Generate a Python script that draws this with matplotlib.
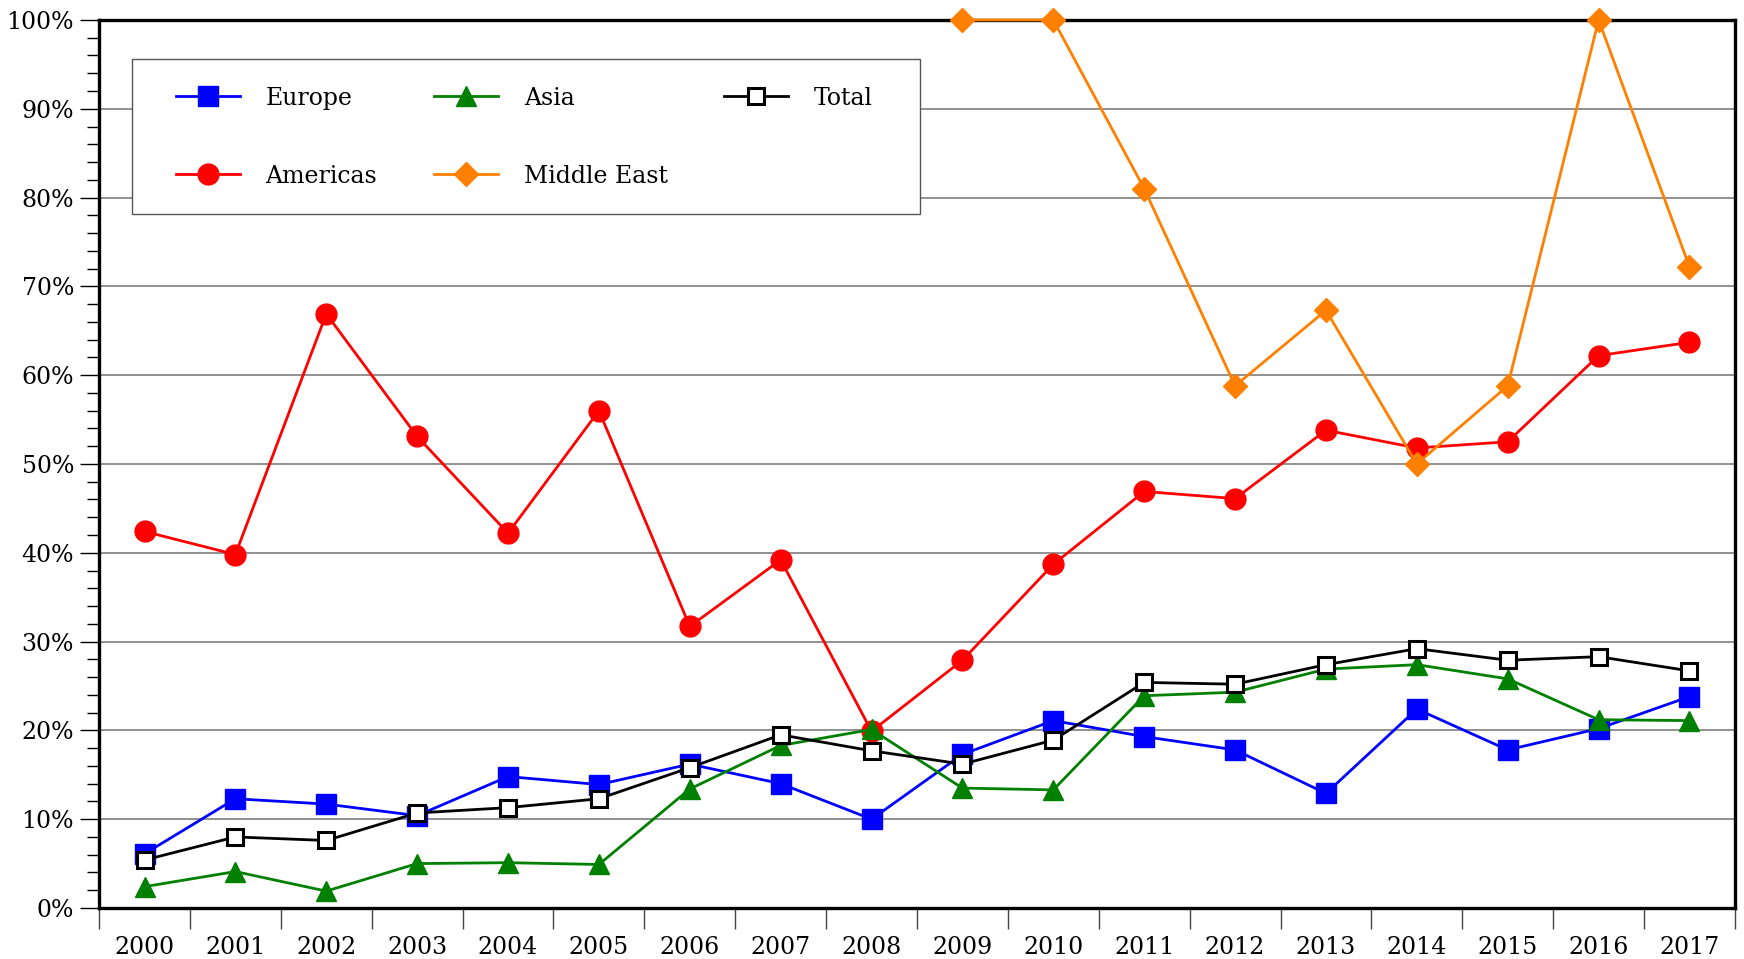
import numpy as np
from matplotlib import pyplot as plt
from matplotlib.patches import Rectangle
from matplotlib.ticker import MultipleLocator, FuncFormatter

years = [str(y) for y in range(2000, 2018)]

europe = [6.1, 12.3, 11.7, 10.4, 14.8, 13.9, 16.2, 14.0, 10.0, 17.3,
          21.1, 19.3, 17.8, 12.9, 22.4, 17.8, 20.2, 23.8]
asia = [2.4, 4.1, 1.9, 5.0, 5.1, 4.9, 13.4, 18.3, 20.1, 13.5,
        13.3, 23.9, 24.3, 26.9, 27.4, 25.8, 21.2, 21.1]
total = [5.4, 8.0, 7.6, 10.7, 11.3, 12.3, 15.8, 19.5, 17.7, 16.2,
         18.9, 25.4, 25.2, 27.4, 29.2, 27.9, 28.3, 26.7]
americas = [42.4, 39.8, 66.9, 53.1, 42.2, 56.0, 31.7, 39.2, 19.9, 27.9,
            38.7, 46.9, 46.1, 53.8, 51.8, 52.5, 62.2, 63.7]
middle_east = [np.nan] * 9 + [100, 100, 81.0, 58.8, 67.3, 50.0, 58.8, 100, 72.2]

plt.rcParams['font.family'] = ['DejaVu Serif']

fig = plt.figure(figsize=(17.44, 9.59), dpi=100)
ax = fig.add_axes([0.0568, 0.0532, 0.938, 0.926])

x = np.arange(len(years))
lw = 2.0
ax.plot(x, europe, color='#0000ff', lw=lw, marker='s', ms=15, label='Europe', zorder=3, clip_on=False)
ax.plot(x, americas, color='#ff0000', lw=lw, marker='o', ms=15, label='Americas', zorder=3, clip_on=False)
ax.plot(x, asia, color='#008000', lw=lw, marker='^', ms=15, label='Asia', zorder=3, clip_on=False)
ax.plot(x, middle_east, color='#ff8000', lw=lw, marker='D', ms=12, label='Middle East', zorder=3, clip_on=False)
ax.plot(x, total, color='black', lw=lw, marker='s', ms=12, mfc='white', mew=2.2,
        label='Total', zorder=4, clip_on=False)

ax.set_xlim(-0.5, len(years) - 0.5)
ax.set_ylim(0, 100)

ax.set_xticks(np.append(x - 0.5, len(years) - 0.5))
ax.set_xticklabels([])
ax.set_xticks(x, minor=True)
ax.set_xticklabels(years, minor=True, fontsize=17)
ax.tick_params(axis='x', which='major', direction='out', length=15, width=1, color='#444444')
ax.tick_params(axis='x', which='minor', length=0, pad=20)

ax.yaxis.set_major_locator(MultipleLocator(10))
ax.yaxis.set_minor_locator(MultipleLocator(2))
ax.yaxis.set_major_formatter(FuncFormatter(lambda v, p: f'{v:.0f}%'))
ax.tick_params(axis='y', which='major', direction='out', length=14, width=1, labelsize=17, pad=4)
ax.tick_params(axis='y', which='minor', direction='out', length=9, width=1)

ax.grid(axis='y', which='major', color='#888888', lw=1.3)
ax.set_axisbelow(True)
for s in ax.spines.values():
    s.set_linewidth(2.4)
    s.set_color('black')

# legend frame drawn separately so its padding can differ per side
frame = Rectangle((0.0204, 0.782), 0.4816, 0.174, transform=ax.transAxes,
                  facecolor='white', edgecolor='#555555', lw=1.0, zorder=5)
ax.add_patch(frame)
leg = ax.legend(loc='center left', bbox_to_anchor=(0.0469, 0.868), borderaxespad=0, ncol=3, fontsize=17,
                handlelength=2.7, handletextpad=1.1, columnspacing=2.4, labelspacing=2.33,
                borderpad=0, frameon=False)
leg.set_zorder(6)

fig.savefig('out.png', dpi=100)
